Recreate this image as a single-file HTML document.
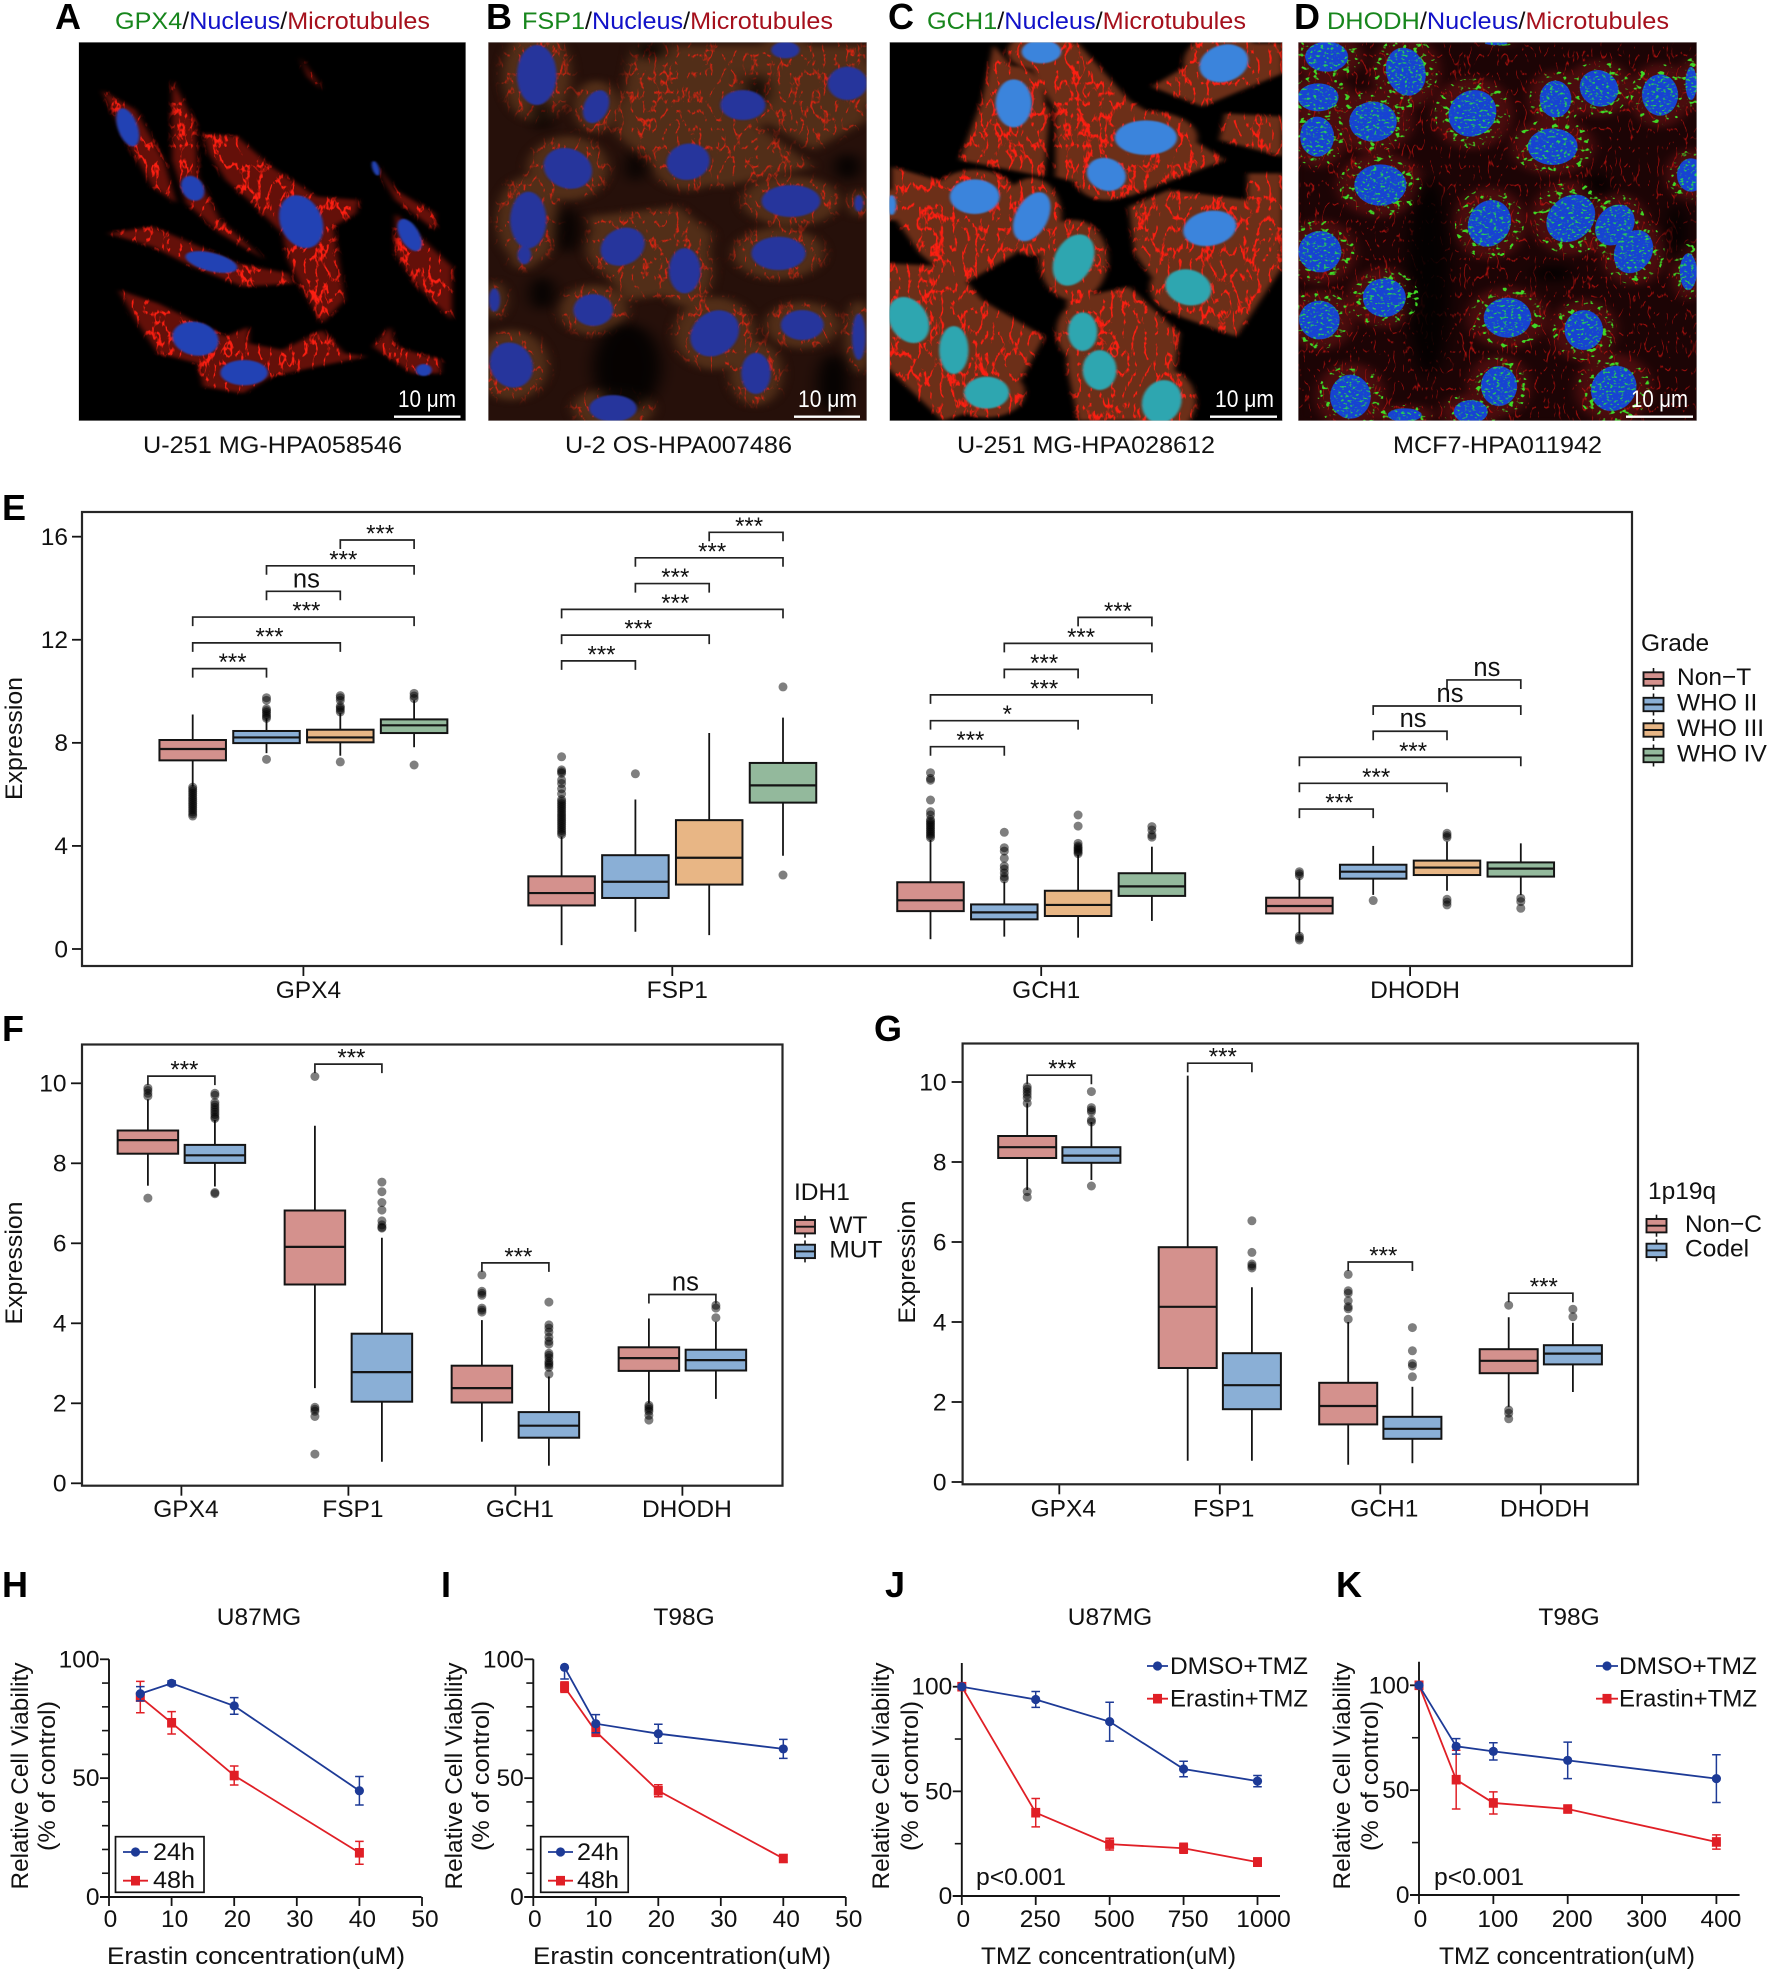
<!DOCTYPE html>
<html lang="en">
<head>
<meta charset="utf-8">
<title>Ferroptosis suppressor expression and cell viability figure</title>
<style>
html,body{margin:0;padding:0;background:#fff;}
svg{display:block;font-family:"Liberation Sans",Arial,sans-serif;}
text{fill:#111;font-size:24.5px;}
.letter{font-size:36px;font-weight:bold;fill:#000;}
.g{fill:#17861c}.b{fill:#1212c8}.r{fill:#a5101c}.k{fill:#111}
</style>
</head>
<body>
<svg id="root" xmlns="http://www.w3.org/2000/svg" width="1772" height="1973" viewBox="0 0 1772 1973">
<defs>
<filter id="fibre" x="-5%" y="-5%" width="110%" height="110%" color-interpolation-filters="sRGB">
  <feGaussianBlur in="SourceGraphic" stdDeviation="5" result="body"/>
  <feTurbulence type="turbulence" baseFrequency="0.05 0.016" numOctaves="3" seed="4" result="n"/>
  <feColorMatrix in="n" type="matrix" values="0 0 0 0 0.98  0 0 0 0 0.12  0 0 0 0 0.07  0 0 0 -9 1.85" result="veins"/>
  <feComposite in="veins" in2="body" operator="in" result="clipped"/>
  <feMerge><feMergeNode in="body"/><feMergeNode in="clipped"/></feMerge>
</filter>
<filter id="fibreDim" x="-5%" y="-5%" width="110%" height="110%" color-interpolation-filters="sRGB">
  <feGaussianBlur in="SourceGraphic" stdDeviation="10" result="body"/>
  <feTurbulence type="turbulence" baseFrequency="0.05 0.018" numOctaves="3" seed="11" result="n"/>
  <feColorMatrix in="n" type="matrix" values="0 0 0 0 0.85  0 0 0 0 0.14  0 0 0 0 0.07  0 0 0 -7 1.3" result="veins"/>
  <feComposite in="veins" in2="body" operator="in" result="clipped"/>
  <feMerge><feMergeNode in="body"/><feMergeNode in="clipped"/></feMerge>
</filter>
<filter id="fibreDark" x="-5%" y="-5%" width="110%" height="110%" color-interpolation-filters="sRGB">
  <feGaussianBlur in="SourceGraphic" stdDeviation="10" result="body"/>
  <feTurbulence type="turbulence" baseFrequency="0.06 0.018" numOctaves="2" seed="7" result="n"/>
  <feColorMatrix in="n" type="matrix" values="0 0 0 0 0.72  0 0 0 0 0.07  0 0 0 0 0.06  0 0 0 -10 1.05" result="veins"/>
  <feComposite in="veins" in2="body" operator="in" result="clipped"/>
  <feMerge><feMergeNode in="body"/><feMergeNode in="clipped"/></feMerge>
</filter>
<filter id="speck" x="-5%" y="-5%" width="110%" height="110%" color-interpolation-filters="sRGB">
  <feTurbulence type="fractalNoise" baseFrequency="0.16 0.14" numOctaves="2" seed="9" result="n"/>
  <feColorMatrix in="n" type="matrix" values="0 0 0 0 0.15  0 0 0 0 0.8  0 0 0 0 0.35  0 6 0 0 -3.35" result="green"/>
  <feComposite in="green" in2="SourceAlpha" operator="in" result="clipped"/>
  <feMerge><feMergeNode in="SourceGraphic"/><feMergeNode in="clipped"/></feMerge>
</filter>
<filter id="mito" x="-5%" y="-5%" width="110%" height="110%" color-interpolation-filters="sRGB">
  <feTurbulence type="fractalNoise" baseFrequency="0.09 0.07" numOctaves="2" seed="21" result="n"/>
  <feColorMatrix in="n" type="matrix" values="0 0 0 0 0.25  0 0 0 0 0.85  0 0 0 0 0.15  0 10 0 0 -6.1" result="green"/>
  <feComposite in="green" in2="SourceAlpha" operator="in"/>
</filter>
<filter id="soft" x="-15%" y="-15%" width="130%" height="130%"><feGaussianBlur stdDeviation="2.5"/></filter>
<filter id="softer" x="-60%" y="-60%" width="220%" height="220%"><feGaussianBlur stdDeviation="14"/></filter>
</defs>

<g id="micrographs"></g>

<text class="letter" x="55" y="29">A</text>
<text class="letter" x="486" y="29">B</text>
<text class="letter" x="888" y="29">C</text>
<text class="letter" x="1294" y="29">D</text>
<text class="letter" x="2" y="520">E</text>
<text class="letter" x="2" y="1041">F</text>
<text class="letter" x="874" y="1041">G</text>
<text class="letter" x="2" y="1597">H</text>
<text class="letter" x="441" y="1597">I</text>
<text class="letter" x="885" y="1597">J</text>
<text class="letter" x="1336" y="1597">K</text>

<text x="115" y="29" textLength="315" lengthAdjust="spacingAndGlyphs"><tspan class="g">GPX4</tspan><tspan class="k">/</tspan><tspan class="b">Nucleus</tspan><tspan class="k">/</tspan><tspan class="r">Microtubules</tspan></text>
<text x="522" y="29" textLength="311" lengthAdjust="spacingAndGlyphs"><tspan class="g">FSP1</tspan><tspan class="k">/</tspan><tspan class="b">Nucleus</tspan><tspan class="k">/</tspan><tspan class="r">Microtubules</tspan></text>
<text x="927" y="29" textLength="319" lengthAdjust="spacingAndGlyphs"><tspan class="g">GCH1</tspan><tspan class="k">/</tspan><tspan class="b">Nucleus</tspan><tspan class="k">/</tspan><tspan class="r">Microtubules</tspan></text>
<text x="1327" y="29" textLength="342" lengthAdjust="spacingAndGlyphs"><tspan class="g">DHODH</tspan><tspan class="k">/</tspan><tspan class="b">Nucleus</tspan><tspan class="k">/</tspan><tspan class="r">Microtubules</tspan></text>

<text x="143" y="453" textLength="259" lengthAdjust="spacingAndGlyphs">U-251 MG-HPA058546</text>
<text x="565" y="453" textLength="227" lengthAdjust="spacingAndGlyphs">U-2 OS-HPA007486</text>
<text x="957" y="453" textLength="258" lengthAdjust="spacingAndGlyphs">U-251 MG-HPA028612</text>
<text x="1393" y="453" textLength="209" lengthAdjust="spacingAndGlyphs">MCF7-HPA011942</text>

<g id="scale-bars">
<g><text x="398" y="407" style="fill:#fff" textLength="58" lengthAdjust="spacingAndGlyphs">10 μm</text><rect x="394" y="415.5" width="66.5" height="2.4" fill="#fff"/></g>
<g><text x="798" y="407" style="fill:#fff" textLength="59" lengthAdjust="spacingAndGlyphs">10 μm</text><rect x="794" y="415.5" width="66" height="2.4" fill="#fff"/></g>
<g><text x="1215" y="407" style="fill:#fff" textLength="59" lengthAdjust="spacingAndGlyphs">10 μm</text><rect x="1210" y="415.5" width="67" height="2.4" fill="#fff"/></g>
<g><text x="1631" y="407" style="fill:#fff" textLength="57" lengthAdjust="spacingAndGlyphs">10 μm</text><rect x="1626" y="415.5" width="67" height="2.4" fill="#fff"/></g>
</g>

<text transform="rotate(-90 22 738.5)" x="22" y="738.5" text-anchor="middle" textLength="123" lengthAdjust="spacingAndGlyphs">Expression</text>
<text x="1641" y="651">Grade</text>
<text transform="rotate(-90 22 1263)" x="22" y="1263" text-anchor="middle" textLength="123" lengthAdjust="spacingAndGlyphs">Expression</text>
<text x="794" y="1200">IDH1</text>
<text transform="rotate(-90 915 1262)" x="915" y="1262" text-anchor="middle" textLength="123" lengthAdjust="spacingAndGlyphs">Expression</text>
<text x="1648" y="1199">1p19q</text>

<text x="259" y="1625" text-anchor="middle">U87MG</text>
<text x="684" y="1625" text-anchor="middle">T98G</text>
<text x="1110" y="1625" text-anchor="middle">U87MG</text>
<text x="1569" y="1625" text-anchor="middle">T98G</text>

<text x="107" y="1964" textLength="298" lengthAdjust="spacingAndGlyphs">Erastin concentration(uM)</text>
<text x="533" y="1964" textLength="298" lengthAdjust="spacingAndGlyphs">Erastin concentration(uM)</text>
<text x="981" y="1964" textLength="255" lengthAdjust="spacingAndGlyphs">TMZ concentration(uM)</text>
<text x="1439" y="1964" textLength="256" lengthAdjust="spacingAndGlyphs">TMZ concentration(uM)</text>

<text transform="rotate(-90 28 1776)" x="28" y="1776" text-anchor="middle" textLength="227" lengthAdjust="spacingAndGlyphs">Relative Cell Viability</text>
<text transform="rotate(-90 55 1776)" x="55" y="1776" text-anchor="middle" textLength="150" lengthAdjust="spacingAndGlyphs">(% of control)</text>
<text transform="rotate(-90 462 1776)" x="462" y="1776" text-anchor="middle" textLength="227" lengthAdjust="spacingAndGlyphs">Relative Cell Viability</text>
<text transform="rotate(-90 489 1776)" x="489" y="1776" text-anchor="middle" textLength="150" lengthAdjust="spacingAndGlyphs">(% of control)</text>
<text transform="rotate(-90 889 1776)" x="889" y="1776" text-anchor="middle" textLength="227" lengthAdjust="spacingAndGlyphs">Relative Cell Viability</text>
<text transform="rotate(-90 918 1776)" x="918" y="1776" text-anchor="middle" textLength="150" lengthAdjust="spacingAndGlyphs">(% of control)</text>
<text transform="rotate(-90 1350 1776)" x="1350" y="1776" text-anchor="middle" textLength="227" lengthAdjust="spacingAndGlyphs">Relative Cell Viability</text>
<text transform="rotate(-90 1378 1776)" x="1378" y="1776" text-anchor="middle" textLength="150" lengthAdjust="spacingAndGlyphs">(% of control)</text>

<text x="976" y="1885" textLength="90" lengthAdjust="spacingAndGlyphs">p&lt;0.001</text>
<text x="1434" y="1885" textLength="90" lengthAdjust="spacingAndGlyphs">p&lt;0.001</text>
</svg>

<script>
/* ---------- Panel E data ---------- */
const eCategories=['GPX4','FSP1','GCH1','DHODH'];
const eGroups=['Non−T','WHO II','WHO III','WHO IV'];
const eYTicks=[0,4,8,12,16];
const eQ1=[[7.32,7.99,8.02,8.38],[1.69,1.98,2.5,5.68],[1.47,1.15,1.28,2.06],[1.38,2.73,2.87,2.81]];
const eMedian=[[7.76,8.21,8.21,8.68],[2.17,2.61,3.54,6.35],[1.89,1.42,1.71,2.43],[1.67,3.0,3.16,3.12]];
const eQ3=[[8.11,8.46,8.51,8.91],[2.82,3.64,5.0,7.22],[2.59,1.73,2.26,2.94],[1.99,3.27,3.43,3.36]];
const eWhiskerLow=[[6.3,7.6,7.5,7.83],[0.15,0.67,0.54,3.62],[0.38,0.48,0.44,1.09],[0.6,2.1,2.26,2.1]];
const eWhiskerHigh=[[9.1,8.95,9.15,9.65],[4.36,5.8,8.38,8.98],[4.23,2.61,3.65,3.97],[2.74,4.0,4.17,4.1]];
const eOutliers=[
 [[6.28,6.2,6.12,6.04,5.96,5.88,5.8,5.72,5.64,5.56,5.48,5.4,5.32,5.24,5.16],[9.75,9.65,9.32,9.25,9.18,9.1,9.02,8.95,7.36],[9.83,9.75,9.65,9.42,9.35,9.28,9.2,7.26],[9.92,9.82,9.72,7.14]],
 [[7.46,6.95,6.88,6.82,6.56,6.42,6.22,6.02,5.8,5.72,5.64,5.56,5.48,5.4,5.32,5.24,5.16,5.08,5.0,4.92,4.84,4.76,4.68,4.6,4.52,4.44],[6.8],[],[10.17,2.87]],
 [[6.84,6.62,6.55,5.78,5.33,5.2,5.02,4.95,4.88,4.81,4.74,4.67,4.6,4.53,4.46,4.39,4.32],[4.53,3.93,3.8,3.52,3.22,3.1,2.95,2.8,2.72],[5.2,4.77,4.1,4.0,3.94,3.88,3.82,3.76,3.7],[4.75,4.62,4.42,4.34]],
 [[3.0,2.92,2.84,0.5,0.42,0.35],[1.88],[4.49,4.4,4.33,1.93,1.82,1.71],[1.97,1.84,1.58]]];
const eBracketPairs=[[0,1],[0,2],[0,3],[1,2],[1,3],[2,3]];
const eBracketValues=[[10.88,11.88,12.88,13.88,14.87,15.87],[11.18,12.18,13.18,14.18,15.18,16.17],[7.85,8.86,9.86,10.85,11.86,12.87],[5.43,6.43,7.44,8.45,9.43,10.44]];
const eBracketLabels=[['***','***','***','ns','***','***'],['***','***','***','***','***','***'],['***','*','***','***','***','***'],['***','***','***','ns','ns','ns']];

/* ---------- Panel F data ---------- */
const fCategories=['GPX4','FSP1','GCH1','DHODH'];
const fGroups=['WT','MUT'];
const fYTicks=[0,2,4,6,8,10];
const fQ1=[[8.24,8.01],[4.97,2.04],[2.02,1.14],[2.81,2.82]];
const fMedian=[[8.58,8.2],[5.91,2.78],[2.38,1.44],[3.13,3.08]];
const fQ3=[[8.82,8.46],[6.82,3.74],[2.94,1.78],[3.4,3.34]];
const fWhiskerLow=[[7.44,7.42],[2.38,0.54],[1.04,0.44],[2.0,2.11]];
const fWhiskerHigh=[[9.6,9.08],[8.94,6.14],[4.08,2.67],[4.12,4.04]];
const fOutliers=[
 [[9.88,9.82,9.75,9.68,7.13],[9.75,9.7,9.52,9.46,9.4,9.34,9.28,9.22,9.16,9.12,7.27,7.24]],
 [[10.17,1.9,1.85,1.8,1.67,0.73],[7.53,7.29,7.02,6.83,6.56,6.46,6.4,6.38]],
 [[5.21,4.8,4.75,4.7,4.38,4.33,4.28],[4.53,3.96,3.88,3.78,3.65,3.55,3.48,3.25,3.2,3.14,3.05,3.0,2.96,2.9,2.73]],
 [[1.95,1.9,1.85,1.8,1.7,1.58],[4.45,4.38,4.14]]];
const fBracketPairs=[[0,1]];
const fBracketValues=[[10.18],[10.48],[5.51],[4.72]];
const fBracketLabels=[['***'],['***'],['***'],['ns']];

/* ---------- Panel G data ---------- */
const gCategories=['GPX4','FSP1','GCH1','DHODH'];
const gGroups=['Non−C','Codel'];
const gYTicks=[0,2,4,6,8,10];
const gQ1=[[8.1,7.98],[2.85,1.82],[1.44,1.08],[2.72,2.94]];
const gMedian=[[8.37,8.16],[4.38,2.42],[1.9,1.33],[3.03,3.21]];
const gQ3=[[8.65,8.37],[5.87,3.22],[2.48,1.63],[3.32,3.42]];
const gWhiskerLow=[[7.3,7.55],[0.53,0.53],[0.43,0.47],[1.88,2.25]];
const gWhiskerHigh=[[9.47,9.0],[10.16,4.87],[4.0,2.38],[4.12,3.98]];
const gOutliers=[
 [[9.88,9.82,9.75,9.68,9.6,9.47,7.26,7.12],[9.76,9.36,9.3,9.25,9.05,9.0,7.4]],
 [[],[6.53,5.74,5.45,5.4,5.35]],
 [[5.19,4.78,4.72,4.53,4.38,4.33,4.07],[3.86,3.28,2.96,2.9,2.63]],
 [[4.42,1.8,1.72,1.58],[4.32,4.13]]];
const gBracketPairs=[[0,1]];
const gBracketValues=[[10.17],[10.47],[5.5],[4.72]];
const gBracketLabels=[['***'],['***'],['***'],['***']];

/* ---------- Panels H-K data ---------- */
const hConcentrations=[5,10,20,40];
const h24hValues=[85.5,89.9,80.4,44.7];
const h24hErrors=[3,1,3.5,6];
const h48hValues=[84.1,73.3,51.1,18.6];
const h48hErrors=[6.6,4.7,4,4.8];
const hXTicks=[0,10,20,30,40,50];
const hYTicks=[0,50,100];
const hYMinorTicks=[10,20,30,40,60,70,80,90];

const iConcentrations=[5,10,20,40];
const i24hValues=[96.6,72.9,68.7,62.3];
const i24hErrors=[4.9,3.8,4,4];
const i48hValues=[88.3,69.6,44.7,16.2];
const i48hErrors=[2.2,2,2.5,1.5];
const iXTicks=[0,10,20,30,40,50];
const iYTicks=[0,50,100];
const iYMinorTicks=[10,20,30,40,60,70,80,90];

const jConcentrations=[0,250,500,750,1000];
const jDmsoValues=[100,93.9,83.3,60.7,54.9];
const jDmsoErrors=[0,3.8,9.3,3.7,2.7];
const jErastinValues=[100,39.8,24.8,22.8,16.2];
const jErastinErrors=[0,6.8,2.8,2.4,2];
const jXTicks=[0,250,500,750,1000];
const jYTicks=[0,50,100];
const jYMinorTicks=[25,75];

const kConcentrations=[0,50,100,200,400];
const kDmsoValues=[100,70.9,68.5,64.2,55.5];
const kDmsoErrors=[0,3.7,4.1,8.7,11.4];
const kErastinValues=[100,55,43.9,41,25.3];
const kErastinErrors=[0,14,5.3,1.5,3.4];
const kXTicks=[0,100,200,300,400];
const kYTicks=[0,50,100];
const kYMinorTicks=[25,75];

/* ---------- helpers ---------- */
const NS=document.getElementById('root').namespaceURI;
const root=document.getElementById('root');
function mk(tag,attrs,parent){
  const el=document.createElementNS(NS,tag);
  for(const k in attrs)el.setAttribute(k,attrs[k]);
  (parent||root).appendChild(el);
  return el;
}
function txt(str,attrs,parent){
  const el=mk('text',attrs,parent);
  el.textContent=str;
  return el;
}
const boxColors=['#d4918d','#8aafd6','#e8b685','#93b99c'];
const INK='#141414';

/* ---------- box plot panels ---------- */
function drawBoxPanel(p){
  const g=mk('g',{});
  
  
  const yOf=v=>p.y0-v*p.unit;
  const xOf=(c,s)=>p.catX0+c*p.catStep+(s-(p.groups.length-1)/2)*p.dodge;

  p.yTicks.forEach(t=>{
    const tick=mk('line',{x1:p.left-p.yTickLen,x2:p.left,y1:yOf(t),y2:yOf(t),stroke:INK,'stroke-width':1.8},g);
    
    
    const lab=txt(String(t),{x:p.yLabelRight,y:yOf(t)+8.3,'text-anchor':'end'},g);
    
    
  });
  p.categories.forEach((name,c)=>{
    const cx=p.catX0+c*p.catStep;
    const tick=mk('line',{x1:cx,x2:cx,y1:p.bottom,y2:p.bottom+10,stroke:INK,'stroke-width':1.8},g);
    
    
    const lab=txt(name,{x:cx+p.xLabelShift,y:p.xLabelY,'text-anchor':'middle'},g);
    
    

    p.groups.forEach((gname,s)=>{
      const x=xOf(c,s);
      const mark=mk('g',{},g);
      
      
      const whisker=mk('line',{x1:x,x2:x,y1:yOf(p.whiskerLow[c][s]),y2:yOf(p.whiskerHigh[c][s]),stroke:INK,'stroke-width':1.8},mark);
      
      
      const body=mk('rect',{x:x-p.boxW/2,y:yOf(p.q3[c][s]),width:p.boxW,height:yOf(p.q1[c][s])-yOf(p.q3[c][s]),fill:boxColors[s],stroke:INK,'stroke-width':2},mark);
      
      
      const med=mk('line',{x1:x-p.boxW/2,x2:x+p.boxW/2,y1:yOf(p.median[c][s]),y2:yOf(p.median[c][s]),stroke:INK,'stroke-width':2.2},mark);
      
      
      p.outliers[c][s].forEach(v=>{
        const o=mk('circle',{cx:x,cy:yOf(v),r:4.5,fill:'#000','fill-opacity':0.5},mark);
        
        
      });
    });

    p.bracketPairs.forEach((pair,b)=>{
      const xa=xOf(c,pair[0]),xb=xOf(c,pair[1]),yb=yOf(p.bracketValues[c][b]);
      const br=mk('polyline',{points:xa+','+(yb+9)+' '+xa+','+yb+' '+xb+','+yb+' '+xb+','+(yb+9),fill:'none',stroke:'#222','stroke-width':1.7},g);
      
      
      const label=p.bracketLabels[c][b];
      const isNs=label==='ns';
      const t=txt(label,{x:(xa+xb)/2+3,y:isNs?yb-4:yb+1.5,'text-anchor':'middle',style:'font-size:'+(isNs?'25.5px':'24px')},g);
      
      
    });
  });
  const frame=mk('rect',{x:p.left,y:p.top,width:p.right-p.left,height:p.bottom-p.top,fill:'none',stroke:'#262626','stroke-width':2.2},g);
  
  

  p.groups.forEach((gname,s)=>{
    const ly=p.legendY+s*p.legendStep;
    const key=mk('g',{},g);
    
    
    const wh=mk('line',{x1:p.legendX,x2:p.legendX,y1:ly-11,y2:ly+11,stroke:INK,'stroke-width':1.6},key);
    
    
    const r=mk('rect',{x:p.legendX-10,y:ly-6.7,width:20,height:13.4,fill:boxColors[s],stroke:INK,'stroke-width':1.9},key);
    
    
    const m=mk('line',{x1:p.legendX-10,x2:p.legendX+10,y1:ly,y2:ly,stroke:INK,'stroke-width':1.9},key);
    
    
    const t=txt(gname,{x:p.legendLabelX,y:ly+6.2},key);
    
    
  });
}

drawBoxPanel({id:'e',left:82,top:512,right:1632,bottom:966,y0:949,unit:25.77,catX0:303.4,catStep:368.9,dodge:73.8,boxW:66.5,
  yTickLen:10,yLabelRight:68,xLabelShift:5,xLabelY:998,categories:eCategories,groups:eGroups,yTicks:eYTicks,
  q1:eQ1,median:eMedian,q3:eQ3,whiskerLow:eWhiskerLow,whiskerHigh:eWhiskerHigh,outliers:eOutliers,
  bracketPairs:eBracketPairs,bracketValues:eBracketValues,bracketLabels:eBracketLabels,
  legendX:1653.5,legendY:679,legendStep:25.5,legendLabelX:1677});
drawBoxPanel({id:'f',left:82,top:1044.5,right:782.5,bottom:1485.7,y0:1483.3,unit:40,catX0:181.4,catStep:167,dodge:67,boxW:60.5,
  yTickLen:11,yLabelRight:66.5,xLabelShift:4.5,xLabelY:1517,categories:fCategories,groups:fGroups,yTicks:fYTicks,
  q1:fQ1,median:fMedian,q3:fQ3,whiskerLow:fWhiskerLow,whiskerHigh:fWhiskerHigh,outliers:fOutliers,
  bracketPairs:fBracketPairs,bracketValues:fBracketValues,bracketLabels:fBracketLabels,
  legendX:805,legendY:1226.7,legendStep:24.7,legendLabelX:829.4});
drawBoxPanel({id:'g',left:962.6,top:1043.5,right:1638,bottom:1484.3,y0:1482,unit:40,catX0:1059.3,catStep:160.5,dodge:64.2,boxW:58,
  yTickLen:11,yLabelRight:946.5,xLabelShift:4,xLabelY:1516.7,categories:gCategories,groups:gGroups,yTicks:gYTicks,
  q1:gQ1,median:gMedian,q3:gQ3,whiskerLow:gWhiskerLow,whiskerHigh:gWhiskerHigh,outliers:gOutliers,
  bracketPairs:gBracketPairs,bracketValues:gBracketValues,bracketLabels:gBracketLabels,
  legendX:1656.5,legendY:1225.7,legendStep:24.7,legendLabelX:1685});

/* ---------- line chart panels ---------- */
const BLUE='#1d3a96',RED='#e01f26';
function drawMarker(kind,x,y,color,parent){
  if(kind==='circle')return mk('circle',{cx:x,cy:y,r:4.6,fill:color},parent);
  return mk('rect',{x:x-4.5,y:y-4.8,width:9,height:9.6,fill:color},parent);
}
function drawLinePanel(p){
  const g=mk('g',{});
  
  
  const xOf=v=>p.axisX+v*p.xUnit;
  const yOf=v=>p.y0-v*p.yUnit;

  const ya=mk('line',{x1:p.axisX,x2:p.axisX,y1:p.yAxisTop,y2:p.y0+1,stroke:INK,'stroke-width':1.9},g);
  
  
  const xa=mk('line',{x1:p.axisX-9,x2:p.xAxisEnd,y1:p.y0,y2:p.y0,stroke:INK,'stroke-width':1.9},g);
  
  

  p.yMinor.forEach(t=>{
    const tick=mk('line',{x1:p.axisX-7,x2:p.axisX,y1:yOf(t),y2:yOf(t),stroke:INK,'stroke-width':1.6},g);
    
    
  });
  p.yTicks.forEach(t=>{
    const tick=mk('line',{x1:p.axisX-9,x2:p.axisX,y1:yOf(t),y2:yOf(t),stroke:INK,'stroke-width':1.8},g);
    
    
    const lab=txt(String(t),{x:p.axisX-9.5,y:yOf(t)+8,'text-anchor':'end'},g);
    
    
  });
  p.xTicks.forEach(t=>{
    const tick=mk('line',{x1:xOf(t),x2:xOf(t),y1:p.y0,y2:p.y0+9,stroke:INK,'stroke-width':1.8},g);
    
    
    const lab=txt(String(t),{x:xOf(t)+String(t).length*1.5,y:1927,'text-anchor':'middle'},g);
    
    
  });
  p.series.forEach(s=>{
    const sg=mk('g',{},g);
    
    
    const pts=p.xs.map((x,i)=>xOf(x)+','+yOf(s.values[i])).join(' ');
    const line=mk('polyline',{points:pts,fill:'none',stroke:s.color,'stroke-width':1.8},sg);
    
    
    p.xs.forEach((x,i)=>{
      const px=xOf(x),py=yOf(s.values[i]),e=s.errors[i]*p.yUnit;
      if(e>0){
        /* the axis range cuts any error bar that would rise above 100 */
        const overTop=s.values[i]+s.errors[i]>100;
        const top=overTop?py:py-e;
        let d='M'+px+' '+top+'V'+(py+e)+'M'+(px-4.3)+' '+(py+e)+'H'+(px+4.3);
        if(!overTop)d+='M'+(px-4.3)+' '+(py-e)+'H'+(px+4.3);
        const eb=mk('path',{d:d,fill:'none',stroke:s.color,'stroke-width':1.5},sg);
        
        
      }
      const mark=drawMarker(s.marker,px,py,s.color,sg);
      
      
    });
  });
  if(p.legendBox){
    const b=mk('rect',{x:p.legendBox[0],y:p.legendBox[1],width:p.legendBox[2],height:p.legendBox[3],fill:'#fff',stroke:INK,'stroke-width':1.7},g);
    
    
  }
  p.legend.forEach(l=>{
    const lg=mk('g',{},g);
    
    
    const ln=mk('line',{x1:l.x1,x2:l.x2,y1:l.y,y2:l.y,stroke:l.color,'stroke-width':1.8},lg);
    
    
    const mark=drawMarker(l.marker,(l.x1+l.x2)/2,l.y,l.color,lg);
    
    
    const t=txt(l.label,{x:l.textX,y:l.baseline,textLength:l.width,lengthAdjust:'spacingAndGlyphs'},lg);
    
    
  });
}

drawLinePanel({id:'h',axisX:109,xUnit:6.26,y0:1897,yUnit:2.377,yAxisTop:1659.3,xAxisEnd:421.5,xs:hConcentrations,xTicks:hXTicks,yTicks:hYTicks,yMinor:hYMinorTicks,
  series:[{name:'48h',values:h48hValues,errors:h48hErrors,color:RED,marker:'square'},{name:'24h',values:h24hValues,errors:h24hErrors,color:BLUE,marker:'circle'}],
  legendBox:[115.5,1836.7,88.5,55.6],
  legend:[{label:'24h',color:BLUE,marker:'circle',x1:123,x2:148,y:1852,textX:153,baseline:1860,width:42},{label:'48h',color:RED,marker:'square',x1:123,x2:148,y:1880.7,textX:153,baseline:1888,width:42}]});
drawLinePanel({id:'i',axisX:533.3,xUnit:6.25,y0:1897,yUnit:2.377,yAxisTop:1659.3,xAxisEnd:845.8,xs:iConcentrations,xTicks:iXTicks,yTicks:iYTicks,yMinor:iYMinorTicks,
  series:[{name:'48h',values:i48hValues,errors:i48hErrors,color:RED,marker:'square'},{name:'24h',values:i24hValues,errors:i24hErrors,color:BLUE,marker:'circle'}],
  legendBox:[540.7,1836.7,87.5,55.6],
  legend:[{label:'24h',color:BLUE,marker:'circle',x1:548,x2:573,y:1852,textX:577,baseline:1860,width:42},{label:'48h',color:RED,marker:'square',x1:548,x2:573,y:1880.7,textX:577,baseline:1888,width:42}]});
drawLinePanel({id:'j',axisX:961.8,xUnit:0.2957,y0:1896,yUnit:2.093,yAxisTop:1663,xAxisEnd:1280,xs:jConcentrations,xTicks:jXTicks,yTicks:jYTicks,yMinor:jYMinorTicks,
  series:[{name:'erastin-tmz',values:jErastinValues,errors:jErastinErrors,color:RED,marker:'square'},{name:'dmso-tmz',values:jDmsoValues,errors:jDmsoErrors,color:BLUE,marker:'circle'}],
  legend:[{label:'DMSO+TMZ',color:BLUE,marker:'circle',x1:1147,x2:1168,y:1666,textX:1170,baseline:1674,width:138},{label:'Erastin+TMZ',color:RED,marker:'square',x1:1147,x2:1168,y:1698.7,textX:1170,baseline:1706.7,width:138}]});
drawLinePanel({id:'k',axisX:1419,xUnit:0.7435,y0:1895,yUnit:2.097,yAxisTop:1661.7,xAxisEnd:1739.6,xs:kConcentrations,xTicks:kXTicks,yTicks:kYTicks,yMinor:kYMinorTicks,
  series:[{name:'erastin-tmz',values:kErastinValues,errors:kErastinErrors,color:RED,marker:'square'},{name:'dmso-tmz',values:kDmsoValues,errors:kDmsoErrors,color:BLUE,marker:'circle'}],
  legend:[{label:'DMSO+TMZ',color:BLUE,marker:'circle',x1:1596,x2:1618,y:1666,textX:1619,baseline:1674,width:138},{label:'Erastin+TMZ',color:RED,marker:'square',x1:1596,x2:1618,y:1698.7,textX:1619,baseline:1706.7,width:138}]});

/* ---------- micrographs (painted impressions of the fluorescence images) ---------- */
const micrographPanels=[
 {id:'a',tx:0,sx:1/1.77,clip:[78.5,42,387.5,379],bg:'#000',gaps:[],filter:'fibre',cellFill:'#641009',nucleusFill:'#2343b4',ring:0,speck:false,
  polys:['180,270 240,330 290,480 312,610 270,560 230,440','305,240 345,370 350,530 390,660 470,780 390,700 330,610 305,480',
   '360,400 420,410 480,500 560,590 635,600 630,640 590,680 600,790 610,900 570,970 540,880 510,780 500,700 440,600 400,540 370,460',
   '190,700 270,680 340,730 420,790 510,820 520,850 430,860 340,800 270,740','210,870 280,910 340,960 400,1010 440,980 440,1030 500,1050 570,990 610,1060 650,1070 560,1100 480,1130 430,1180 360,1160 350,1090 280,1060 240,960',
   '700,640 800,800 800,960 740,860 700,760','660,480 700,570 770,640 770,690 700,600','690,980 660,1040 730,1120 780,1120 780,1080 700,1040','530,170 560,240 570,270 545,230'],
  nuclei:[[226,382,18,58,-10],[341,565,20,38,-10],[533,665,38,80,-8],[374,786,50,26,28],[346,1016,40,52,-15],[432,1118,42,38,0],[725,705,18,50,-15],[665,505,6,22,-10],[750,1110,14,18,0]]},
 {id:'b',tx:0,sx:1/1.77,clip:[488,42,379,379],bg:'#26100a',gaps:[[1150,150,30,25],[1340,270,18,45],[960,345,16,45],[1110,1100,60,130],[1475,1150,28,90],[1005,690,20,70],[1125,500,16,45],[1500,500,22,40],[960,880,22,50]],filter:'fibreDim',cellFill:'#522e18',nucleusFill:'#25369c',ring:1.55,speck:false,
  polys:['1120,135 1300,135 1320,350 1440,500 1280,560 1180,540 1090,400','1290,135 1535,135 1535,360 1440,450 1340,350','1040,650 1200,620 1260,700 1250,870 1110,900 1060,800'],
  nuclei:[[950,225,35,90,0],[1055,320,22,50,10],[1005,505,42,62,-10],[1218,485,38,55,5],[1315,315,40,45,0],[1400,603,52,48,0],[1500,250,35,50,0],[935,660,32,85,0],[928,765,12,28,0],[1102,740,38,58,12],[1378,760,48,50,0],[1212,812,28,68,0],[1050,930,35,48,0],[1265,1000,42,70,10],[1420,975,38,45,0],[1338,1120,26,62,0],[905,1095,38,68,-5],[875,900,10,35,0],[1085,1225,42,40,0],[1520,1010,12,70,0],[1390,150,25,25,0],[1520,610,8,25,0]]},
 {id:'c',tx:886,sx:1/1.77,clip:[889.4,42,393.2,379],bg:'#000',gaps:[],filter:'fibre',cellFill:'#6c2f18',nucleusFill:'#3b84dc',ring:1.55,speck:false,
  polys:['190,135 290,330 280,530 130,480 170,300','230,125 340,130 430,300 600,480 430,590 300,530 300,330','470,260 600,130 702,130 702,220 560,320','600,340 702,350 702,470 590,420',
   '10,500 90,540 230,600 230,760 130,860 60,760 10,640','430,620 500,570 640,600 702,800 620,1010 520,950 440,760','0,790 120,800 170,900 280,1010 220,1200 100,1262 0,1100','320,900 430,860 520,1000 500,1262 340,1262 320,1100','640,520 702,520 702,800 640,700'],
  nuclei:[[598,190,42,58,15],[275,155,35,35,0],[226,310,32,72,0],[460,413,55,52,0],[390,523,34,50,-10],[157,590,44,52,0],[258,650,30,75,12],[573,685,45,55,25],[332,780,35,78,10],[535,862,40,55,-12],[40,960,35,70,-10],[120,1050,26,72,0],[178,1178,40,48,0],[348,995,26,58,0],[378,1110,30,60,0],[488,1205,35,65,5],[10,615,8,30,0]],
  tealFrom:8},
 {id:'d',tx:886,sx:1/1.77,clip:[1298,42,399,379],bg:'#1c0405',gaps:[[960,830,40,300],[1260,560,22,40],[1400,700,18,90],[1180,820,35,24]],filter:'fibreDark',cellFill:'#4a0c0d',nucleusFill:'#1743d2',ring:1.55,speck:true,mito:1.5,
  polys:[],
  nuclei:[[780,170,38,45,0],[920,215,35,72,-5],[1038,340,42,70,5],[1262,265,34,55,-5],[1185,297,28,55,0],[1370,285,32,62,0],[765,292,36,42,0],[862,365,42,60,0],[763,410,30,60,0],[1180,440,44,55,0],[875,555,46,62,0],[1068,670,38,70,5],[1212,655,42,72,10],[1290,675,34,62,10],[1323,755,34,65,8],[768,755,38,62,0],[1425,525,25,50,0],[882,893,38,58,0],[1100,953,42,60,0],[1235,990,34,60,0],[767,960,36,58,0],[1085,1158,32,60,0],[1288,1165,40,68,5],[822,1190,36,66,0],[918,1245,30,20,0],[1035,1235,30,35,0],[1420,815,15,55,0],[1080,130,20,5,0],[1425,250,10,50,0]]}
];
const microRoot=document.getElementById('micrographs');
micrographPanels.forEach(m=>{
  const clip=mk('clipPath',{id:'clip-'+m.id},microRoot);
  mk('rect',{x:m.clip[0],y:m.clip[1],width:m.clip[2],height:m.clip[3]},clip);
  const holder=mk('g',{'clip-path':'url(#clip-'+m.id+')'},microRoot);
  
  
  const bg=mk('rect',{x:m.clip[0],y:m.clip[1],width:m.clip[2],height:m.clip[3],fill:m.bg},holder);
  
  
  const space=mk('g',{transform:'translate('+m.tx+',0) scale('+m.sx+','+(1/3)+')'},holder);
  const cells=mk('g',{filter:'url(#'+m.filter+')'},space);
  
  
  const fillBox=mk('rect',{x:(m.clip[0]-m.tx)/m.sx,y:126,width:m.clip[2]/m.sx,height:1137,fill:'#1c0405','fill-opacity':m.id==='d'?1:0},cells);
  
  
  m.polys.forEach(pts=>{
    const c=mk('polygon',{points:pts,fill:m.cellFill},cells);
    
    
  });
  if(m.ring>0){
    m.nuclei.forEach(n=>{
      const c=mk('ellipse',{cx:n[0],cy:n[1],rx:n[2]*m.ring+6,ry:n[3]*m.ring,fill:m.cellFill},cells);
      
      
    });
  }
  m.gaps.forEach(n=>{
    const c=mk('ellipse',{cx:n[0],cy:n[1],rx:n[2],ry:n[3],fill:'#050101','fill-opacity':0.85,filter:'url(#softer)'},space);
    
    
  });
  if(m.mito){
    const mito=mk('g',{filter:'url(#mito)'},space);
    
    
    const mitoExtent=mk('rect',{x:(m.clip[0]-m.tx)/m.sx,y:126,width:m.clip[2]/m.sx,height:1137,fill:'#000','fill-opacity':0},mito);
    
    
    m.nuclei.forEach(n=>{
      const e=mk('ellipse',{cx:n[0],cy:n[1],rx:n[2]*m.mito+4,ry:n[3]*m.mito,fill:'#000'},mito);
      
      
    });
  }
  const nucleiGroup=mk('g',m.speck?{filter:'url(#speck)'}:{filter:'url(#soft)'},space);
  
  
  m.nuclei.forEach((n,i)=>{
    const teal=m.tealFrom!==undefined&&i>=m.tealFrom&&i<16;
    const e=mk('ellipse',{cx:n[0],cy:n[1],rx:n[2],ry:n[3],transform:'rotate('+n[4]+' '+n[0]+' '+n[1]+')',fill:teal?'#2fa6b0':m.nucleusFill},nucleiGroup);
    
    
  });
  const border=mk('rect',{x:m.clip[0],y:m.clip[1],width:m.clip[2],height:m.clip[3],fill:'none',stroke:'#c8c8c8','stroke-width':1},holder);
  
  
});
</script>
</body>
</html>
